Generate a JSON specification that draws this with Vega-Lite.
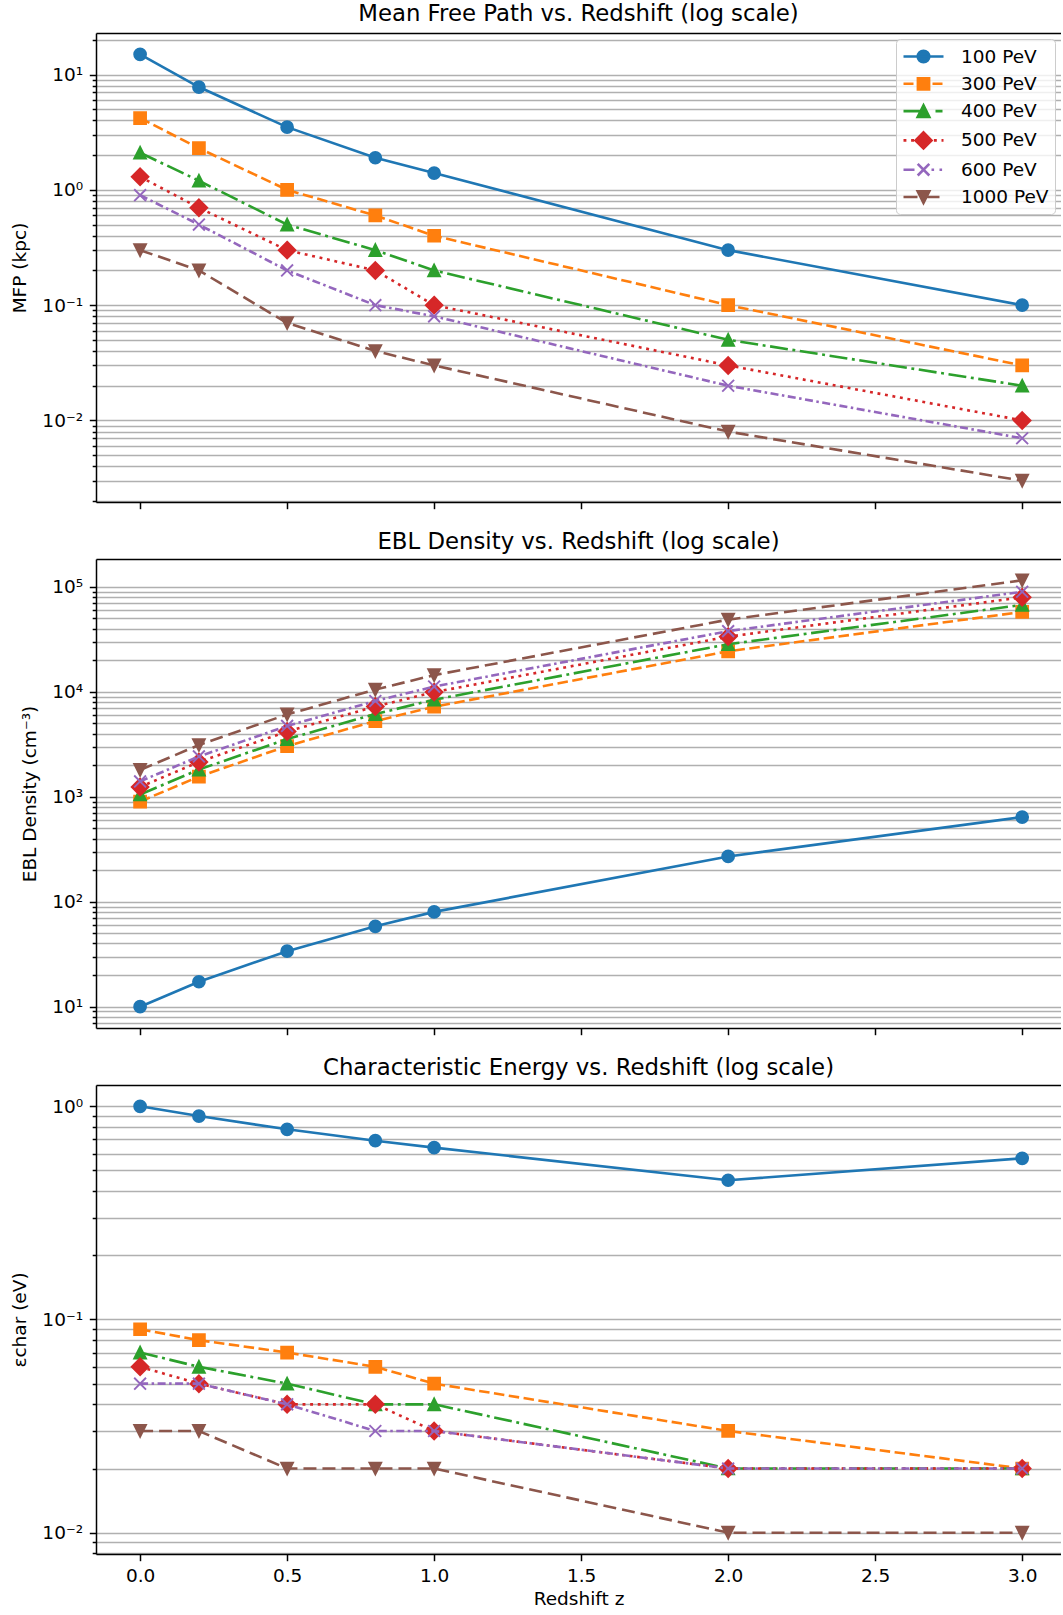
{
  "$schema": "https://vega.github.io/schema/vega-lite/v6.json",
  "background": "white",
  "padding": {"left": 10, "top": 3, "right": 0, "bottom": 4},
  "datasets": {
    "mfp": [
      {"series": "100 PeV", "z": 0.0, "v": 15}, {"series": "100 PeV", "z": 0.2, "v": 7.8}, {"series": "100 PeV", "z": 0.5, "v": 3.5}, {"series": "100 PeV", "z": 0.8, "v": 1.9}, {"series": "100 PeV", "z": 1.0, "v": 1.4}, {"series": "100 PeV", "z": 2.0, "v": 0.3}, {"series": "100 PeV", "z": 3.0, "v": 0.1},
      {"series": "300 PeV", "z": 0.0, "v": 4.2}, {"series": "300 PeV", "z": 0.2, "v": 2.3}, {"series": "300 PeV", "z": 0.5, "v": 1.0}, {"series": "300 PeV", "z": 0.8, "v": 0.6}, {"series": "300 PeV", "z": 1.0, "v": 0.4}, {"series": "300 PeV", "z": 2.0, "v": 0.1}, {"series": "300 PeV", "z": 3.0, "v": 0.03},
      {"series": "400 PeV", "z": 0.0, "v": 2.1}, {"series": "400 PeV", "z": 0.2, "v": 1.2}, {"series": "400 PeV", "z": 0.5, "v": 0.5}, {"series": "400 PeV", "z": 0.8, "v": 0.3}, {"series": "400 PeV", "z": 1.0, "v": 0.2}, {"series": "400 PeV", "z": 2.0, "v": 0.05}, {"series": "400 PeV", "z": 3.0, "v": 0.02},
      {"series": "500 PeV", "z": 0.0, "v": 1.3}, {"series": "500 PeV", "z": 0.2, "v": 0.7}, {"series": "500 PeV", "z": 0.5, "v": 0.3}, {"series": "500 PeV", "z": 0.8, "v": 0.2}, {"series": "500 PeV", "z": 1.0, "v": 0.1}, {"series": "500 PeV", "z": 2.0, "v": 0.03}, {"series": "500 PeV", "z": 3.0, "v": 0.01},
      {"series": "600 PeV", "z": 0.0, "v": 0.9}, {"series": "600 PeV", "z": 0.2, "v": 0.5}, {"series": "600 PeV", "z": 0.5, "v": 0.2}, {"series": "600 PeV", "z": 0.8, "v": 0.1}, {"series": "600 PeV", "z": 1.0, "v": 0.08}, {"series": "600 PeV", "z": 2.0, "v": 0.02}, {"series": "600 PeV", "z": 3.0, "v": 0.007},
      {"series": "1000 PeV", "z": 0.0, "v": 0.3}, {"series": "1000 PeV", "z": 0.2, "v": 0.2}, {"series": "1000 PeV", "z": 0.5, "v": 0.07}, {"series": "1000 PeV", "z": 0.8, "v": 0.04}, {"series": "1000 PeV", "z": 1.0, "v": 0.03}, {"series": "1000 PeV", "z": 2.0, "v": 0.008}, {"series": "1000 PeV", "z": 3.0, "v": 0.003}
    ],
    "ebl": [
      {"series": "100 PeV", "z": 0.0, "v": 10}, {"series": "100 PeV", "z": 0.2, "v": 17.28}, {"series": "100 PeV", "z": 0.5, "v": 33.75}, {"series": "100 PeV", "z": 0.8, "v": 58.32}, {"series": "100 PeV", "z": 1.0, "v": 80}, {"series": "100 PeV", "z": 2.0, "v": 270}, {"series": "100 PeV", "z": 3.0, "v": 640},
      {"series": "300 PeV", "z": 0.0, "v": 900}, {"series": "300 PeV", "z": 0.2, "v": 1555}, {"series": "300 PeV", "z": 0.5, "v": 3038}, {"series": "300 PeV", "z": 0.8, "v": 5249}, {"series": "300 PeV", "z": 1.0, "v": 7200}, {"series": "300 PeV", "z": 2.0, "v": 24300}, {"series": "300 PeV", "z": 3.0, "v": 57600},
      {"series": "400 PeV", "z": 0.0, "v": 1050}, {"series": "400 PeV", "z": 0.2, "v": 1814}, {"series": "400 PeV", "z": 0.5, "v": 3544}, {"series": "400 PeV", "z": 0.8, "v": 6124}, {"series": "400 PeV", "z": 1.0, "v": 8400}, {"series": "400 PeV", "z": 2.0, "v": 28350}, {"series": "400 PeV", "z": 3.0, "v": 67200},
      {"series": "500 PeV", "z": 0.0, "v": 1240}, {"series": "500 PeV", "z": 0.2, "v": 2143}, {"series": "500 PeV", "z": 0.5, "v": 4185}, {"series": "500 PeV", "z": 0.8, "v": 7232}, {"series": "500 PeV", "z": 1.0, "v": 9920}, {"series": "500 PeV", "z": 2.0, "v": 33480}, {"series": "500 PeV", "z": 3.0, "v": 79360},
      {"series": "600 PeV", "z": 0.0, "v": 1400}, {"series": "600 PeV", "z": 0.2, "v": 2419}, {"series": "600 PeV", "z": 0.5, "v": 4725}, {"series": "600 PeV", "z": 0.8, "v": 8165}, {"series": "600 PeV", "z": 1.0, "v": 11200}, {"series": "600 PeV", "z": 2.0, "v": 37800}, {"series": "600 PeV", "z": 3.0, "v": 89600},
      {"series": "1000 PeV", "z": 0.0, "v": 1800}, {"series": "1000 PeV", "z": 0.2, "v": 3110}, {"series": "1000 PeV", "z": 0.5, "v": 6075}, {"series": "1000 PeV", "z": 0.8, "v": 10498}, {"series": "1000 PeV", "z": 1.0, "v": 14400}, {"series": "1000 PeV", "z": 2.0, "v": 48600}, {"series": "1000 PeV", "z": 3.0, "v": 115200}
    ],
    "eps": [
      {"series": "100 PeV", "z": 0.0, "v": 1.0}, {"series": "100 PeV", "z": 0.2, "v": 0.9}, {"series": "100 PeV", "z": 0.5, "v": 0.78}, {"series": "100 PeV", "z": 0.8, "v": 0.69}, {"series": "100 PeV", "z": 1.0, "v": 0.64}, {"series": "100 PeV", "z": 2.0, "v": 0.45}, {"series": "100 PeV", "z": 3.0, "v": 0.57},
      {"series": "300 PeV", "z": 0.0, "v": 0.09}, {"series": "300 PeV", "z": 0.2, "v": 0.08}, {"series": "300 PeV", "z": 0.5, "v": 0.07}, {"series": "300 PeV", "z": 0.8, "v": 0.06}, {"series": "300 PeV", "z": 1.0, "v": 0.05}, {"series": "300 PeV", "z": 2.0, "v": 0.03}, {"series": "300 PeV", "z": 3.0, "v": 0.02},
      {"series": "400 PeV", "z": 0.0, "v": 0.07}, {"series": "400 PeV", "z": 0.2, "v": 0.06}, {"series": "400 PeV", "z": 0.5, "v": 0.05}, {"series": "400 PeV", "z": 0.8, "v": 0.04}, {"series": "400 PeV", "z": 1.0, "v": 0.04}, {"series": "400 PeV", "z": 2.0, "v": 0.02}, {"series": "400 PeV", "z": 3.0, "v": 0.02},
      {"series": "500 PeV", "z": 0.0, "v": 0.06}, {"series": "500 PeV", "z": 0.2, "v": 0.05}, {"series": "500 PeV", "z": 0.5, "v": 0.04}, {"series": "500 PeV", "z": 0.8, "v": 0.04}, {"series": "500 PeV", "z": 1.0, "v": 0.03}, {"series": "500 PeV", "z": 2.0, "v": 0.02}, {"series": "500 PeV", "z": 3.0, "v": 0.02},
      {"series": "600 PeV", "z": 0.0, "v": 0.05}, {"series": "600 PeV", "z": 0.2, "v": 0.05}, {"series": "600 PeV", "z": 0.5, "v": 0.04}, {"series": "600 PeV", "z": 0.8, "v": 0.03}, {"series": "600 PeV", "z": 1.0, "v": 0.03}, {"series": "600 PeV", "z": 2.0, "v": 0.02}, {"series": "600 PeV", "z": 3.0, "v": 0.02},
      {"series": "1000 PeV", "z": 0.0, "v": 0.03}, {"series": "1000 PeV", "z": 0.2, "v": 0.03}, {"series": "1000 PeV", "z": 0.5, "v": 0.02}, {"series": "1000 PeV", "z": 0.8, "v": 0.02}, {"series": "1000 PeV", "z": 1.0, "v": 0.02}, {"series": "1000 PeV", "z": 2.0, "v": 0.01}, {"series": "1000 PeV", "z": 3.0, "v": 0.01}
    ]
  },
  "vconcat": [
    {
      "title": {"text": "Mean Free Path vs. Redshift (log scale)"},
      "width": 965, "height": 469,
      "data": {"name": "mfp"},
      "resolve": {"axis": {"x": "independent"}},
      "layer": [
        {"mark": {"type": "line", "strokeWidth": 2.6, "strokeOpacity": 0},
         "encoding": {"x": {"field": "z", "type": "quantitative", "axis": null}, "y": {"field": "v", "type": "quantitative"},
           "color": {"field": "series", "type": "nominal",
             "scale": {"domain": ["100 PeV", "300 PeV", "400 PeV", "500 PeV", "600 PeV", "1000 PeV"], "range": ["#1f77b4", "#ff7f0e", "#2ca02c", "#d62728", "#9467bd", "#8c564b"]},
             "legend": {"orient": "top-right", "offset": 6, "title": null, "padding": 6, "rowPadding": 4.3, "labelOffset": 26, "symbolOffset": 10, "symbolSize": 400,
               "labelFontSize": 18.5, "labelFont": "DejaVu Sans", "labelColor": "#000", "labelLimit": 300,
               "strokeColor": "#cccccc", "fillColor": "rgba(255,255,255,0.8)", "cornerRadius": 4, "symbolStrokeWidth": 2.6,
               "encode": {"symbols": {"update": {
                 "shape": {"signal": "datum.value === '100 PeV' ? 'M-2,0L2,0M-0.58,0A0.58,0.58,0,1,0,0.58,0A0.58,0.58,0,1,0,-0.58,0Z' : datum.value === '300 PeV' ? 'M-2,0L-1,0M0.9,0L1.9,0M-0.56,-0.56L0.56,-0.56L0.56,0.56L-0.56,0.56Z' : datum.value === '400 PeV' ? 'M-2,0L-0.2,0M1.2,0L1.9,0M0,-0.58L0.58,0.58L-0.58,0.58Z' : datum.value === '500 PeV' ? 'M-2,0L-1.71,0M-1.24,0L-0.95,0M-0.48,0L-0.19,0M0.28,0L0.57,0M1.04,0L1.33,0M1.8,0L2,0M0,-0.8L0.8,0L0,0.8L-0.8,0Z' : datum.value === '600 PeV' ? 'M-2,0L-0.9,0M0.8,0L1.06,0M1.6,0L1.86,0M-0.58,-0.58L0.58,0.58M-0.58,0.58L0.58,-0.58' : 'M-2,0L-0.6,0M0.4,0L1.6,0M0,0.58L-0.58,-0.58L0.58,-0.58Z'"},
                 "fill": {"signal": "datum.value === '100 PeV' ? '#1f77b4' : datum.value === '300 PeV' ? '#ff7f0e' : datum.value === '400 PeV' ? '#2ca02c' : datum.value === '500 PeV' ? '#d62728' : datum.value === '600 PeV' ? '#9467bd' : '#8c564b'"},
                 "strokeWidth": {"value": 2.6},
                 "strokeOpacity": {"value": 1},
                 "fillOpacity": {"value": 1},
                 "opacity": {"value": 1}
               }}}}}}},
        {"transform": [{"filter": {"field": "series", "equal": "100 PeV"}}],
         "mark": {"type": "line", "stroke": "#1f77b4", "strokeWidth": 2.6},
         "encoding": {"x": {"field": "z", "type": "quantitative", "scale": {"domain": [-0.15, 3.132], "nice": false, "zero": false},
                  "axis": {"orient": "bottom", "values": [0, 0.5, 1, 1.5, 2, 2.5, 3], "labels": false, "title": null, "grid": false, "tickSize": 6.7}},
            "y": {"field": "v", "type": "quantitative",
                  "scale": {"type": "log", "domain": [0.00196, 22.96], "nice": false},
                  "axis": {"title": "MFP (kpc)", "titlePadding": 12, "grid": true, "labelPadding": 6.7,
                           "values": [0.002, 0.003, 0.004, 0.005, 0.006, 0.007, 0.008, 0.009, 0.01, 0.02, 0.03, 0.04, 0.05, 0.06, 0.07, 0.08, 0.09, 0.1, 0.2, 0.3, 0.4, 0.5, 0.6, 0.7, 0.8, 0.9, 1, 2, 3, 4, 5, 6, 7, 8, 9, 10, 20],
                           "tickSize": {"condition": {"test": "abs(log(datum.value)/LN10 - round(log(datum.value)/LN10)) < 0.001", "value": 6.7}, "value": 3.8},
                           "labelExpr": "datum.value == 10 ? '10¹' : datum.value == 1 ? '10⁰' : datum.value == 0.1 ? '10⁻¹' : datum.value == 0.01 ? '10⁻²' : ''"}}}},
        {"transform": [{"filter": {"field": "series", "equal": "100 PeV"}}],
         "mark": {"type": "point", "shape": "circle", "filled": true, "fill": "#1f77b4", "stroke": "#1f77b4", "strokeWidth": 1.9, "size": 140, "opacity": 1},
         "encoding": {"x": {"field": "z", "type": "quantitative", "axis": {"orient": "top", "labels": false, "ticks": false, "grid": false, "domain": true, "title": null}}, "y": {"field": "v", "type": "quantitative"}}},
        {"transform": [{"filter": {"field": "series", "equal": "300 PeV"}}],
         "mark": {"type": "line", "stroke": "#ff7f0e", "strokeWidth": 2.6, "strokeDash": [10.5, 4.5]},
         "encoding": {"x": {"field": "z", "type": "quantitative", "axis": null}, "y": {"field": "v", "type": "quantitative"}}},
        {"transform": [{"filter": {"field": "series", "equal": "300 PeV"}}],
         "mark": {"type": "point", "shape": "square", "filled": true, "fill": "#ff7f0e", "stroke": "#ff7f0e", "strokeWidth": 1.9, "size": 140, "opacity": 1},
         "encoding": {"x": {"field": "z", "type": "quantitative", "axis": null}, "y": {"field": "v", "type": "quantitative"}}},
        {"transform": [{"filter": {"field": "series", "equal": "400 PeV"}}],
         "mark": {"type": "line", "stroke": "#2ca02c", "strokeWidth": 2.6, "strokeDash": [18, 4.6, 2.9, 4.6]},
         "encoding": {"x": {"field": "z", "type": "quantitative", "axis": null}, "y": {"field": "v", "type": "quantitative"}}},
        {"transform": [{"filter": {"field": "series", "equal": "400 PeV"}}],
         "mark": {"type": "point", "shape": "M0,-1L-1,1L1,1Z", "filled": true, "fill": "#2ca02c", "stroke": "#2ca02c", "strokeWidth": 1.9, "size": 140, "opacity": 1},
         "encoding": {"x": {"field": "z", "type": "quantitative", "axis": null}, "y": {"field": "v", "type": "quantitative"}}},
        {"transform": [{"filter": {"field": "series", "equal": "500 PeV"}}],
         "mark": {"type": "line", "stroke": "#d62728", "strokeWidth": 2.6, "strokeDash": [2.9, 4.7]},
         "encoding": {"x": {"field": "z", "type": "quantitative", "axis": null}, "y": {"field": "v", "type": "quantitative"}}},
        {"transform": [{"filter": {"field": "series", "equal": "500 PeV"}}],
         "mark": {"type": "point", "shape": "M0,-1.414L1.414,0L0,1.414L-1.414,0Z", "filled": true, "fill": "#d62728", "stroke": "#d62728", "strokeWidth": 1.9, "size": 140, "opacity": 1},
         "encoding": {"x": {"field": "z", "type": "quantitative", "axis": null}, "y": {"field": "v", "type": "quantitative"}}},
        {"transform": [{"filter": {"field": "series", "equal": "600 PeV"}}],
         "mark": {"type": "line", "stroke": "#9467bd", "strokeWidth": 2.6, "strokeDash": [8, 3.5, 2.5, 3.5]},
         "encoding": {"x": {"field": "z", "type": "quantitative", "axis": null}, "y": {"field": "v", "type": "quantitative"}}},
        {"transform": [{"filter": {"field": "series", "equal": "600 PeV"}}],
         "mark": {"type": "point", "shape": "M-1,-1L1,1M-1,1L1,-1", "filled": true, "fill": "#9467bd", "stroke": "#9467bd", "strokeWidth": 1.9, "size": 140, "opacity": 1},
         "encoding": {"x": {"field": "z", "type": "quantitative", "axis": null}, "y": {"field": "v", "type": "quantitative"}}},
        {"transform": [{"filter": {"field": "series", "equal": "1000 PeV"}}],
         "mark": {"type": "line", "stroke": "#8c564b", "strokeWidth": 2.6, "strokeDash": [13, 6]},
         "encoding": {"x": {"field": "z", "type": "quantitative", "axis": null}, "y": {"field": "v", "type": "quantitative"}}},
        {"transform": [{"filter": {"field": "series", "equal": "1000 PeV"}}],
         "mark": {"type": "point", "shape": "M0,1L-1,-1L1,-1Z", "filled": true, "fill": "#8c564b", "stroke": "#8c564b", "strokeWidth": 1.9, "size": 140, "opacity": 1},
         "encoding": {"x": {"field": "z", "type": "quantitative", "axis": null}, "y": {"field": "v", "type": "quantitative"}}}
      ]
    },
    {
      "title": {"text": "EBL Density vs. Redshift (log scale)"},
      "width": 965, "height": 469,
      "data": {"name": "ebl"},
      "resolve": {"axis": {"x": "independent"}},
      "layer": [
        {"transform": [{"filter": {"field": "series", "equal": "100 PeV"}}],
         "mark": {"type": "line", "stroke": "#1f77b4", "strokeWidth": 2.6},
         "encoding": {"x": {"field": "z", "type": "quantitative", "scale": {"domain": [-0.15, 3.132], "nice": false, "zero": false},
                  "axis": {"orient": "bottom", "values": [0, 0.5, 1, 1.5, 2, 2.5, 3], "labels": false, "title": null, "grid": false, "tickSize": 6.7}},
            "y": {"field": "v", "type": "quantitative",
                  "scale": {"type": "log", "domain": [6.265, 183900], "nice": false},
                  "axis": {"title": "EBL Density (cm⁻³)", "titlePadding": 12, "grid": true, "labelPadding": 6.7,
                           "values": [7, 8, 9, 10, 20, 30, 40, 50, 60, 70, 80, 90, 100, 200, 300, 400, 500, 600, 700, 800, 900, 1000, 2000, 3000, 4000, 5000, 6000, 7000, 8000, 9000, 10000, 20000, 30000, 40000, 50000, 60000, 70000, 80000, 90000, 100000],
                           "tickSize": {"condition": {"test": "abs(log(datum.value)/LN10 - round(log(datum.value)/LN10)) < 0.001", "value": 6.7}, "value": 3.8},
                           "labelExpr": "datum.value == 10 ? '10¹' : datum.value == 100 ? '10²' : datum.value == 1000 ? '10³' : datum.value == 10000 ? '10⁴' : datum.value == 100000 ? '10⁵' : ''"}}}},
        {"transform": [{"filter": {"field": "series", "equal": "100 PeV"}}],
         "mark": {"type": "point", "shape": "circle", "filled": true, "fill": "#1f77b4", "stroke": "#1f77b4", "strokeWidth": 1.9, "size": 140, "opacity": 1},
         "encoding": {"x": {"field": "z", "type": "quantitative", "axis": {"orient": "top", "labels": false, "ticks": false, "grid": false, "domain": true, "title": null}}, "y": {"field": "v", "type": "quantitative"}}},
        {"transform": [{"filter": {"field": "series", "equal": "300 PeV"}}],
         "mark": {"type": "line", "stroke": "#ff7f0e", "strokeWidth": 2.6, "strokeDash": [10.5, 4.5]},
         "encoding": {"x": {"field": "z", "type": "quantitative", "axis": null}, "y": {"field": "v", "type": "quantitative"}}},
        {"transform": [{"filter": {"field": "series", "equal": "300 PeV"}}],
         "mark": {"type": "point", "shape": "square", "filled": true, "fill": "#ff7f0e", "stroke": "#ff7f0e", "strokeWidth": 1.9, "size": 140, "opacity": 1},
         "encoding": {"x": {"field": "z", "type": "quantitative", "axis": null}, "y": {"field": "v", "type": "quantitative"}}},
        {"transform": [{"filter": {"field": "series", "equal": "400 PeV"}}],
         "mark": {"type": "line", "stroke": "#2ca02c", "strokeWidth": 2.6, "strokeDash": [18, 4.6, 2.9, 4.6]},
         "encoding": {"x": {"field": "z", "type": "quantitative", "axis": null}, "y": {"field": "v", "type": "quantitative"}}},
        {"transform": [{"filter": {"field": "series", "equal": "400 PeV"}}],
         "mark": {"type": "point", "shape": "M0,-1L-1,1L1,1Z", "filled": true, "fill": "#2ca02c", "stroke": "#2ca02c", "strokeWidth": 1.9, "size": 140, "opacity": 1},
         "encoding": {"x": {"field": "z", "type": "quantitative", "axis": null}, "y": {"field": "v", "type": "quantitative"}}},
        {"transform": [{"filter": {"field": "series", "equal": "500 PeV"}}],
         "mark": {"type": "line", "stroke": "#d62728", "strokeWidth": 2.6, "strokeDash": [2.9, 4.7]},
         "encoding": {"x": {"field": "z", "type": "quantitative", "axis": null}, "y": {"field": "v", "type": "quantitative"}}},
        {"transform": [{"filter": {"field": "series", "equal": "500 PeV"}}],
         "mark": {"type": "point", "shape": "M0,-1.414L1.414,0L0,1.414L-1.414,0Z", "filled": true, "fill": "#d62728", "stroke": "#d62728", "strokeWidth": 1.9, "size": 140, "opacity": 1},
         "encoding": {"x": {"field": "z", "type": "quantitative", "axis": null}, "y": {"field": "v", "type": "quantitative"}}},
        {"transform": [{"filter": {"field": "series", "equal": "600 PeV"}}],
         "mark": {"type": "line", "stroke": "#9467bd", "strokeWidth": 2.6, "strokeDash": [8, 3.5, 2.5, 3.5]},
         "encoding": {"x": {"field": "z", "type": "quantitative", "axis": null}, "y": {"field": "v", "type": "quantitative"}}},
        {"transform": [{"filter": {"field": "series", "equal": "600 PeV"}}],
         "mark": {"type": "point", "shape": "M-1,-1L1,1M-1,1L1,-1", "filled": true, "fill": "#9467bd", "stroke": "#9467bd", "strokeWidth": 1.9, "size": 140, "opacity": 1},
         "encoding": {"x": {"field": "z", "type": "quantitative", "axis": null}, "y": {"field": "v", "type": "quantitative"}}},
        {"transform": [{"filter": {"field": "series", "equal": "1000 PeV"}}],
         "mark": {"type": "line", "stroke": "#8c564b", "strokeWidth": 2.6, "strokeDash": [13, 6]},
         "encoding": {"x": {"field": "z", "type": "quantitative", "axis": null}, "y": {"field": "v", "type": "quantitative"}}},
        {"transform": [{"filter": {"field": "series", "equal": "1000 PeV"}}],
         "mark": {"type": "point", "shape": "M0,1L-1,-1L1,-1Z", "filled": true, "fill": "#8c564b", "stroke": "#8c564b", "strokeWidth": 1.9, "size": 140, "opacity": 1},
         "encoding": {"x": {"field": "z", "type": "quantitative", "axis": null}, "y": {"field": "v", "type": "quantitative"}}}
      ]
    },
    {
      "title": {"text": "Characteristic Energy vs. Redshift (log scale)"},
      "width": 965, "height": 469,
      "data": {"name": "eps"},
      "resolve": {"axis": {"x": "independent"}},
      "layer": [
        {"transform": [{"filter": {"field": "series", "equal": "100 PeV"}}],
         "mark": {"type": "line", "stroke": "#1f77b4", "strokeWidth": 2.6},
         "encoding": {"x": {"field": "z", "type": "quantitative", "scale": {"domain": [-0.15, 3.132], "nice": false, "zero": false},
                  "axis": {"orient": "bottom", "values": [0, 0.5, 1, 1.5, 2, 2.5, 3], "format": ".1f", "labels": true, "title": "Redshift z", "titlePadding": 4, "grid": false, "tickSize": 6.7, "labelPadding": 6}},
            "y": {"field": "v", "type": "quantitative",
                  "scale": {"type": "log", "domain": [0.007943, 1.2589], "nice": false},
                  "axis": {"title": "εchar (eV)", "titlePadding": 12, "grid": true, "labelPadding": 6.7,
                           "values": [0.008, 0.009, 0.01, 0.02, 0.03, 0.04, 0.05, 0.06, 0.07, 0.08, 0.09, 0.1, 0.2, 0.3, 0.4, 0.5, 0.6, 0.7, 0.8, 0.9, 1],
                           "tickSize": {"condition": {"test": "abs(log(datum.value)/LN10 - round(log(datum.value)/LN10)) < 0.001", "value": 6.7}, "value": 3.8},
                           "labelExpr": "datum.value == 1 ? '10⁰' : datum.value == 0.1 ? '10⁻¹' : datum.value == 0.01 ? '10⁻²' : ''"}}}},
        {"transform": [{"filter": {"field": "series", "equal": "100 PeV"}}],
         "mark": {"type": "point", "shape": "circle", "filled": true, "fill": "#1f77b4", "stroke": "#1f77b4", "strokeWidth": 1.9, "size": 140, "opacity": 1},
         "encoding": {"x": {"field": "z", "type": "quantitative", "axis": {"orient": "top", "labels": false, "ticks": false, "grid": false, "domain": true, "title": null}}, "y": {"field": "v", "type": "quantitative"}}},
        {"transform": [{"filter": {"field": "series", "equal": "300 PeV"}}],
         "mark": {"type": "line", "stroke": "#ff7f0e", "strokeWidth": 2.6, "strokeDash": [10.5, 4.5]},
         "encoding": {"x": {"field": "z", "type": "quantitative", "axis": null}, "y": {"field": "v", "type": "quantitative"}}},
        {"transform": [{"filter": {"field": "series", "equal": "300 PeV"}}],
         "mark": {"type": "point", "shape": "square", "filled": true, "fill": "#ff7f0e", "stroke": "#ff7f0e", "strokeWidth": 1.9, "size": 140, "opacity": 1},
         "encoding": {"x": {"field": "z", "type": "quantitative", "axis": null}, "y": {"field": "v", "type": "quantitative"}}},
        {"transform": [{"filter": {"field": "series", "equal": "400 PeV"}}],
         "mark": {"type": "line", "stroke": "#2ca02c", "strokeWidth": 2.6, "strokeDash": [18, 4.6, 2.9, 4.6]},
         "encoding": {"x": {"field": "z", "type": "quantitative", "axis": null}, "y": {"field": "v", "type": "quantitative"}}},
        {"transform": [{"filter": {"field": "series", "equal": "400 PeV"}}],
         "mark": {"type": "point", "shape": "M0,-1L-1,1L1,1Z", "filled": true, "fill": "#2ca02c", "stroke": "#2ca02c", "strokeWidth": 1.9, "size": 140, "opacity": 1},
         "encoding": {"x": {"field": "z", "type": "quantitative", "axis": null}, "y": {"field": "v", "type": "quantitative"}}},
        {"transform": [{"filter": {"field": "series", "equal": "500 PeV"}}],
         "mark": {"type": "line", "stroke": "#d62728", "strokeWidth": 2.6, "strokeDash": [2.9, 4.7]},
         "encoding": {"x": {"field": "z", "type": "quantitative", "axis": null}, "y": {"field": "v", "type": "quantitative"}}},
        {"transform": [{"filter": {"field": "series", "equal": "500 PeV"}}],
         "mark": {"type": "point", "shape": "M0,-1.414L1.414,0L0,1.414L-1.414,0Z", "filled": true, "fill": "#d62728", "stroke": "#d62728", "strokeWidth": 1.9, "size": 140, "opacity": 1},
         "encoding": {"x": {"field": "z", "type": "quantitative", "axis": null}, "y": {"field": "v", "type": "quantitative"}}},
        {"transform": [{"filter": {"field": "series", "equal": "600 PeV"}}],
         "mark": {"type": "line", "stroke": "#9467bd", "strokeWidth": 2.6, "strokeDash": [8, 3.5, 2.5, 3.5]},
         "encoding": {"x": {"field": "z", "type": "quantitative", "axis": null}, "y": {"field": "v", "type": "quantitative"}}},
        {"transform": [{"filter": {"field": "series", "equal": "600 PeV"}}],
         "mark": {"type": "point", "shape": "M-1,-1L1,1M-1,1L1,-1", "filled": true, "fill": "#9467bd", "stroke": "#9467bd", "strokeWidth": 1.9, "size": 140, "opacity": 1},
         "encoding": {"x": {"field": "z", "type": "quantitative", "axis": null}, "y": {"field": "v", "type": "quantitative"}}},
        {"transform": [{"filter": {"field": "series", "equal": "1000 PeV"}}],
         "mark": {"type": "line", "stroke": "#8c564b", "strokeWidth": 2.6, "strokeDash": [13, 6]},
         "encoding": {"x": {"field": "z", "type": "quantitative", "axis": null}, "y": {"field": "v", "type": "quantitative"}}},
        {"transform": [{"filter": {"field": "series", "equal": "1000 PeV"}}],
         "mark": {"type": "point", "shape": "M0,1L-1,-1L1,-1Z", "filled": true, "fill": "#8c564b", "stroke": "#8c564b", "strokeWidth": 1.9, "size": 140, "opacity": 1},
         "encoding": {"x": {"field": "z", "type": "quantitative", "axis": null}, "y": {"field": "v", "type": "quantitative"}}}
      ]
    }
  ],
  "spacing": 57,
  "bounds": "flush",
  "resolve": {"scale": {"color": "independent"}, "legend": {"color": "independent"}},
  "config": {
    "font": "DejaVu Sans",
    "view": {"stroke": null},
    "axis": {
      "labelFont": "DejaVu Sans", "titleFont": "DejaVu Sans", "labelFontSize": 18.5, "titleFontSize": 18.5,
      "titleFontWeight": "normal", "labelColor": "#000", "titleColor": "#000",
      "domainColor": "#000", "domainWidth": 1.5, "tickColor": "#000", "tickWidth": 1.5,
      "gridColor": "#b0b0b0", "gridWidth": 1.5, "labelOverlap": false, "labelFlush": false, "labelBound": false
    },
    "title": {"font": "DejaVu Sans", "fontSize": 22.8, "fontWeight": "normal", "color": "#000", "offset": 5, "anchor": "middle"}
  }
}
